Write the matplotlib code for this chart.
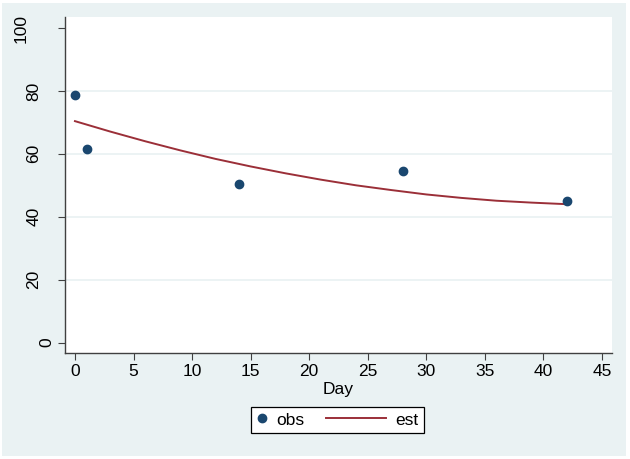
"""
Observed vs. estimated values by day (Stata-style twoway plot).
"""

import matplotlib

matplotlib.use("Agg")

import matplotlib.pyplot as plt
import matplotlib.transforms as mtransforms
from matplotlib.legend_handler import HandlerLine2D
from matplotlib.patches import Rectangle


OUTPUT_PATH = "out.png"

OBS_DAY = [0, 1, 14, 28, 42]
OBS_VALUE = [78.6, 61.5, 50.5, 54.4, 45.0]

EST_DAY = [0, 3, 6, 9, 12, 15, 18, 21, 24, 27, 30, 33, 36, 39, 42]
EST_VALUE = [70.4, 67.1, 64.0, 61.1, 58.4, 56.0, 53.8, 51.8, 50.0, 48.5,
             47.1, 46.0, 45.1, 44.5, 44.0]

X_TICKS = [0, 5, 10, 15, 20, 25, 30, 35, 40, 45]
Y_TICKS = [0, 20, 40, 60, 80, 100]

BG = "#eaf2f3"
NAVY = "#1a476f"
MAROON = "#9b2f38"


class WideLineHandler(HandlerLine2D):
    """Draw the legend line longer than the handle box, reaching to the left."""

    def create_artists(self, legend, orig_handle, xdescent, ydescent,
                       width, height, fontsize, trans):
        extra = 2.85 * fontsize
        return super().create_artists(legend, orig_handle, xdescent + extra,
                                      ydescent, width + extra, height,
                                      fontsize, trans)


def main():
    plt.rcParams["font.family"] = ["Liberation Sans", "DejaVu Sans"]
    plt.rcParams["font.size"] = 12.5

    fig = plt.figure(figsize=(6.3, 4.59), dpi=100)
    fig.patch.set_facecolor("white")
    fig.patches.append(Rectangle((2 / 630, 3 / 459), 624 / 630, 453 / 459,
                                 transform=fig.transFigure, facecolor=BG,
                                 edgecolor="none", zorder=-10))

    ax = fig.add_axes([65 / 630, 1 - 353 / 459, 547 / 630, 336 / 459])
    ax.set_facecolor("white")

    for y in Y_TICKS[1:-1]:
        ax.axhline(y, color=BG, linewidth=1.3, zorder=0)

    obs, = ax.plot(OBS_DAY, OBS_VALUE, linestyle="none", marker="o",
                   markersize=6, color=NAVY, label="obs", zorder=3)
    est, = ax.plot(EST_DAY, EST_VALUE, color=MAROON, linewidth=1.4,
                   label="est", zorder=2)

    ax.set_xlim(-0.85, 45.86)
    ax.set_ylim(-3.3, 103.5)
    ax.set_xticks(X_TICKS)
    ax.set_yticks(Y_TICKS)

    for side in ("top", "right"):
        ax.spines[side].set_visible(False)
    for side in ("left", "bottom"):
        ax.spines[side].set_color("#404040")
        ax.spines[side].set_linewidth(1.0)

    ax.tick_params(axis="both", direction="out", length=5, width=0.8,
                   color="#404040")
    ax.tick_params(axis="x", pad=3)
    ax.tick_params(axis="y", labelleft=False)

    # Stata places rotated y labels so that shorter labels sit nearer the axis
    ylab_trans = mtransforms.blended_transform_factory(fig.transFigure,
                                                      ax.transData)
    for y in Y_TICKS:
        text = str(y)
        center_px = 59.3 - 12.8 * len(text)
        ax.text(center_px / 630, y, text, transform=ylab_trans,
                rotation=90, ha="center", va="center")

    ax.set_xlabel("Day", labelpad=2)

    legend = fig.legend(
        handles=[obs, est],
        loc="center",
        bbox_to_anchor=(337.5 / 630, 1 - 420 / 459),
        ncol=2,
        numpoints=1,
        handlelength=0.6,
        handletextpad=0.55,
        columnspacing=4.1,
        borderpad=0.3,
        borderaxespad=0,
        fancybox=False,
        framealpha=1,
        handler_map={est: WideLineHandler()},
    )
    legend.get_frame().set_edgecolor("black")
    legend.get_frame().set_linewidth(0.9)

    fig.savefig(OUTPUT_PATH, dpi=100, facecolor=fig.get_facecolor())
    plt.close(fig)


if __name__ == "__main__":
    main()
